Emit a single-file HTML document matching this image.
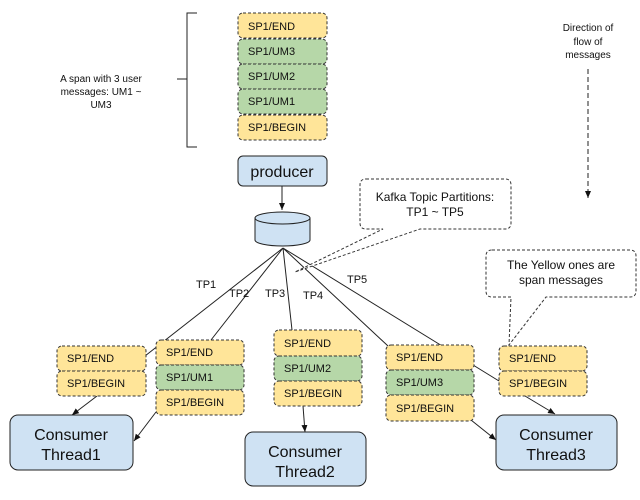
<!DOCTYPE html>
<html><head><style>body{margin:0;background:#fff}svg{display:block}text{font-family:"Liberation Sans",sans-serif;fill:#111}</style></head>
<body>
<svg width="640" height="500" viewBox="0 0 640 500" xmlns="http://www.w3.org/2000/svg">
<defs>
<marker id="a" markerWidth="8" markerHeight="8" refX="7" refY="4" orient="auto" markerUnits="userSpaceOnUse"><path d="M0,1 L7,4 L0,7 z" fill="#111"/></marker>
</defs>
<g stroke="#222" stroke-width="1" fill="none">
<!-- bracket -->
<path d="M197,13 H187 V147 H197 M187,79 H177"/>
<!-- fan lines -->
<path d="M283,248 L145,356 M283,248 L211,340 M283,248 L292,330 M283,248 L388,346 M283,248 L499,381"/>
<!-- arrows -->
<path d="M282,186 V210" marker-end="url(#a)"/>
<path d="M97,396 L72,415" marker-end="url(#a)"/>
<path d="M156,412 L134,441" marker-end="url(#a)"/>
<path d="M303,406 L305,432" marker-end="url(#a)"/>
<path d="M471,420 L496,440" marker-end="url(#a)"/>
<path d="M525,396 L555,414" marker-end="url(#a)"/>
<path d="M588,69 V198" stroke-dasharray="5,3" marker-end="url(#a)"/>
</g>
<!-- top stack -->
<g stroke="#333" stroke-dasharray="3,2" stroke-width="1">
<rect x="238" y="13" width="89" height="25" rx="5" fill="#ffe599"/>
<rect x="238" y="39" width="89" height="25" rx="5" fill="#b6d7a8"/>
<rect x="238" y="64" width="89" height="25" rx="5" fill="#b6d7a8"/>
<rect x="238" y="89" width="89" height="25" rx="5" fill="#b6d7a8"/>
<rect x="238" y="115" width="89" height="25" rx="5" fill="#ffe599"/>
<!-- group1 -->
<rect x="57" y="346" width="89" height="25" rx="5" fill="#ffe599"/>
<rect x="57" y="371" width="89" height="25" rx="5" fill="#ffe599"/>
<!-- group2 -->
<rect x="156" y="340" width="88" height="25" rx="5" fill="#ffe599"/>
<rect x="156" y="365" width="88" height="25" rx="5" fill="#b6d7a8"/>
<rect x="156" y="390" width="88" height="25" rx="5" fill="#ffe599"/>
<!-- group3 -->
<rect x="274" y="330" width="88" height="26" rx="5" fill="#ffe599"/>
<rect x="274" y="356" width="88" height="25" rx="5" fill="#b6d7a8"/>
<rect x="274" y="381" width="88" height="25" rx="5" fill="#ffe599"/>
<!-- group4 -->
<rect x="386" y="345" width="88" height="25" rx="5" fill="#ffe599"/>
<rect x="386" y="370" width="88" height="25" rx="5" fill="#b6d7a8"/>
<rect x="386" y="395" width="88" height="26" rx="5" fill="#ffe599"/>
<!-- group5 -->
<rect x="499" y="346" width="88" height="25" rx="5" fill="#ffe599"/>
<rect x="499" y="371" width="88" height="25" rx="5" fill="#ffe599"/>
<!-- callouts -->
<path d="M366,179 H505 Q511,179 511,185 V223 Q511,229 505,229 H420 L295,272 L383,229 H366 Q360,229 360,223 V185 Q360,179 366,179 Z" fill="#fff"/>
<path d="M492,250 H630 Q636,250 636,256 V291 Q636,297 630,297 H546 L509,345 L511,297 H492 Q486,297 486,291 V256 Q486,250 492,250 Z" fill="#fff"/>
</g>
<g stroke="#222" stroke-width="1" fill="#cfe2f3">
<rect x="238" y="156" width="89" height="30" rx="5"/>
<rect x="10" y="415" width="123" height="55" rx="8"/>
<rect x="245" y="432" width="121" height="54" rx="8"/>
<rect x="496" y="415" width="121" height="55" rx="8"/>
<path d="M255,218 V240 A27.5,6 0 0 0 310,240 V218"/>
<ellipse cx="282.5" cy="218" rx="27.5" ry="6"/>
</g>
<g font-size="11">
<text x="248" y="30">SP1/END</text>
<text x="248" y="55">SP1/UM3</text>
<text x="248" y="80">SP1/UM2</text>
<text x="248" y="105">SP1/UM1</text>
<text x="248" y="131">SP1/BEGIN</text>
<text x="67" y="362">SP1/END</text>
<text x="67" y="387">SP1/BEGIN</text>
<text x="166" y="356">SP1/END</text>
<text x="166" y="381">SP1/UM1</text>
<text x="166" y="406">SP1/BEGIN</text>
<text x="284" y="347">SP1/END</text>
<text x="284" y="372">SP1/UM2</text>
<text x="284" y="397">SP1/BEGIN</text>
<text x="396" y="361">SP1/END</text>
<text x="396" y="386">SP1/UM3</text>
<text x="396" y="412">SP1/BEGIN</text>
<text x="509" y="362">SP1/END</text>
<text x="509" y="387">SP1/BEGIN</text>
<text x="196" y="288">TP1</text>
<text x="229" y="297">TP2</text>
<text x="265" y="297">TP3</text>
<text x="303" y="299">TP4</text>
<text x="347" y="283">TP5</text>
</g>
<g font-size="10" text-anchor="middle">
<text x="101" y="82">A span with 3 user</text>
<text x="101" y="95">messages: UM1 ~</text>
<text x="101" y="108">UM3</text>
<text x="588" y="31">Direction of</text>
<text x="588" y="45">flow of</text>
<text x="588" y="58">messages</text>
</g>
<g font-size="12" text-anchor="middle">
<text x="435" y="201">Kafka Topic Partitions:</text>
<text x="435" y="216">TP1 ~ TP5</text>
<text x="561" y="269">The Yellow ones are</text>
<text x="561" y="284">span messages</text>
</g>
<g font-size="16" text-anchor="middle">
<text x="282" y="177">producer</text>
<text x="71" y="440">Consumer</text>
<text x="71" y="460">Thread1</text>
<text x="305" y="457">Consumer</text>
<text x="305" y="477">Thread2</text>
<text x="556" y="440">Consumer</text>
<text x="556" y="460">Thread3</text>
</g>
</svg>
</body></html>
